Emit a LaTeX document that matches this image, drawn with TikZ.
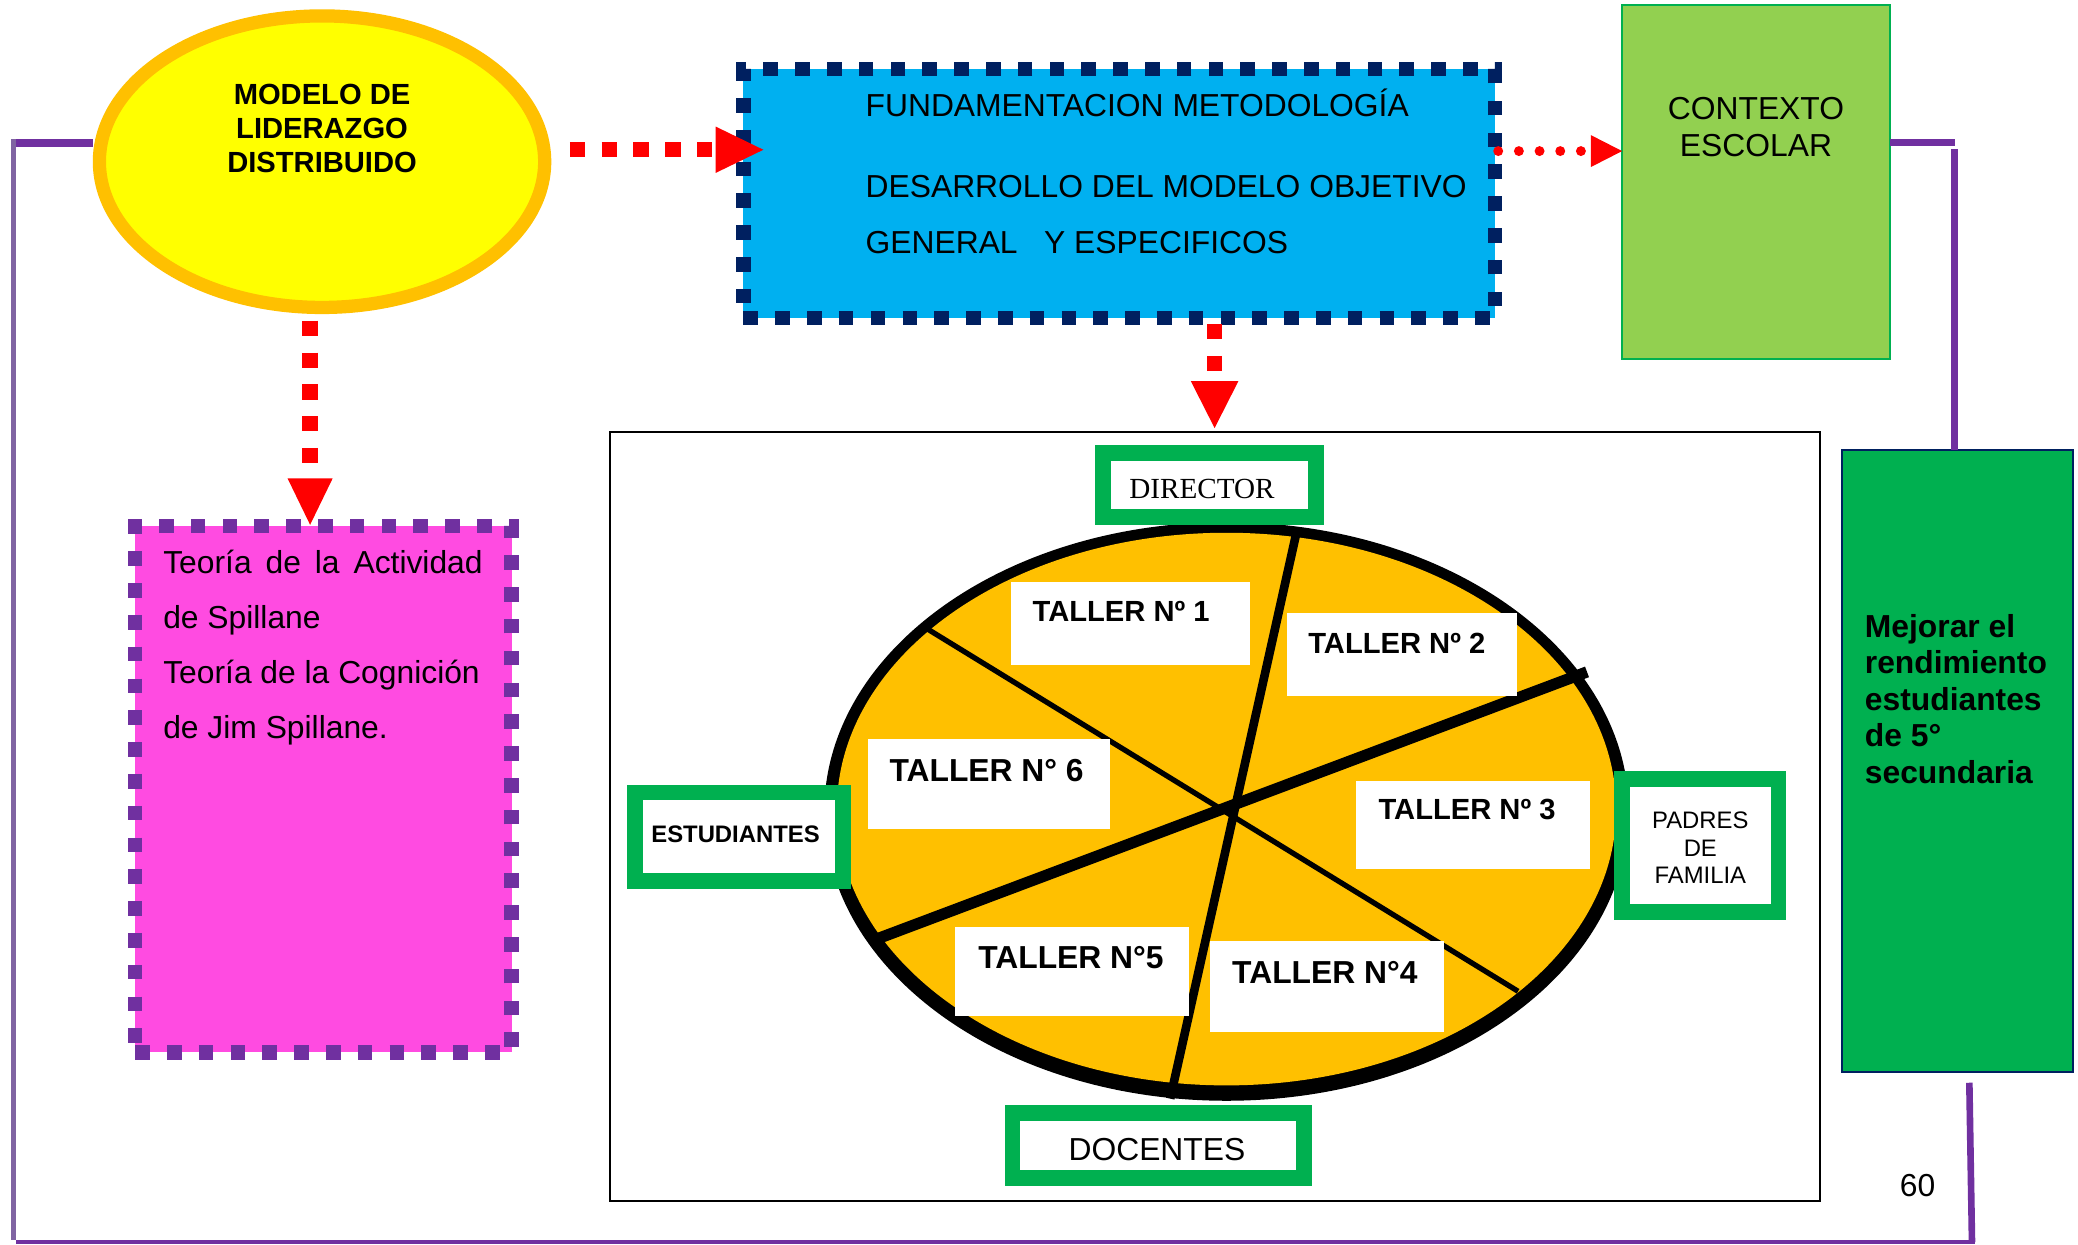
\documentclass[tikz,border=0pt]{standalone}
\usepackage{fontspec}
\setmainfont{Liberation Sans}
\newfontfamily\timesfont{Liberation Serif}
\usetikzlibrary{arrows.meta,shapes.geometric}
\definecolor{cyellow}{HTML}{FFFF00}
\definecolor{corange}{HTML}{FFC000}
\definecolor{cred}{HTML}{FF0000}
\definecolor{cblue}{HTML}{00B0F0}
\definecolor{cnavy}{HTML}{002060}
\definecolor{clgreen}{HTML}{92D050}
\definecolor{cgreen}{HTML}{00B050}
\definecolor{cmagenta}{HTML}{FF4BE1}
\definecolor{cpurple}{HTML}{7030A0}
\definecolor{clpurple}{HTML}{8064A2}
\newcommand\fsz[2]{\fontsize{#1}{#2}\selectfont}
\tikzset{
  tl/.style={inner sep=0pt, anchor=base west},
  tc/.style={inner sep=0pt, anchor=base},
  plainbox/.style={inner sep=0pt, outer sep=0pt},
  sqborder/.style={line width=11pt, dash pattern=on 11pt off 13pt},
  reddash/.style={draw=cred, line width=11.5pt, dash pattern=on 11.5pt off 12.5pt},
  reddot/.style={draw=cred, line width=7.5pt, dash pattern=on 0pt off 15.6pt, line cap=round},
  labelbox/.style={draw=cgreen, line width=12pt, fill=white, inner sep=0pt},
  tallerbox/.style={fill=white, inner sep=0pt},
  tallertxt/.style={tl, font=\bfseries\fsz{22}{26}},
  tallertxtb/.style={tl, font=\bfseries\fsz{24}{28}},
  conn/.style={draw=cpurple},
}
\begin{document}
\begin{tikzpicture}[x=1pt,y=-1pt]
\useasboundingbox[fill=white] (0,0) rectangle (1568,939);

% ---- purple connectors (behind) ----
\coordinate (pa) at (10,107.7);
\coordinate (pb) at (1475,107.7);
\coordinate (pc) at (10,936);
\coordinate (pd) at (1490,937.3);
\coordinate (pe) at (1486,817);
\coordinate (pf) at (1488,937.3);
\coordinate (ar) at (0,114);

% ---- main boxes ----
\node[ellipse, draw=corange, line width=10pt, fill=cyellow, minimum width=336pt, minimum height=220pt, inner sep=0pt] (modelo) at (243,122) {};
\node[plainbox, draw=cnavy, fill=cblue, sqborder, minimum width=567pt, minimum height=188pt] (fund) at (844.5,146) {};
\node[plainbox, draw=cgreen, line width=1.5pt, fill=clgreen, minimum width=202pt, minimum height=267pt] (contexto) at (1325,137.6) {};
\node[plainbox, draw=cpurple, fill=cmagenta, sqborder, minimum width=284pt, minimum height=397pt] (teoria) at (244,595.5) {};
\node[plainbox, draw=cnavy, line width=1.5pt, fill=cgreen, minimum width=174pt, minimum height=469.5pt] (mejorar) at (1477,574.2) {};
\node[plainbox, draw=black, line width=1.5pt, minimum width=913pt, minimum height=580pt] (marco) at (916.5,616) {};

\draw[conn, line width=6pt] (modelo.west |- pa) -- (pa);
\draw[draw=clpurple, line width=4pt] ([yshift=2.5pt]pa) -- (pc);
\draw[conn, line width=3pt] (12,937.3) -- (pd);
\draw[conn, line width=5pt] (pe) -- (pf);
\draw[conn, line width=5.5pt] (contexto.east |- pb) -- (pb);
\draw[conn, line width=5.5pt] ([yshift=-5pt]pb) -- (pb |- mejorar.north);

% ---- texts of main boxes ----
\node[tc, font=\bfseries\fsz{22}{26}] (m1) at (243,78.5) {MODELO DE};
\node[tc, font=\bfseries\fsz{22}{26}] (m2) at (243,104.5) {LIDERAZGO};
\node[tc, font=\bfseries\fsz{22}{26}] (m3) at (243,130) {DISTRIBUIDO};

\node[tl, font=\fsz{24}{28}] (f1) at (653,88) {FUNDAMENTACION METODOLOGÍA};
\node[tl, font=\fsz{24}{28}] (f2) at (653,149) {DESARROLLO DEL MODELO OBJETIVO};
\node[tl, font=\fsz{24}{28}] (f3) at (653,191) {GENERAL\hspace{20pt}Y ESPECIFICOS};

\node[tc, font=\fsz{24}{28}] (c1) at (1325,90.5) {CONTEXTO};
\node[tc, font=\fsz{24}{28}] (c2) at (1325,118) {ESCOLAR};

\node[tl, font=\fsz{24}{28}] (te1) at (123,433) {\makebox[241pt][s]{Teoría de la Actividad}};
\node[tl, font=\fsz{24}{28}] (te2) at (123,474.5) {de Spillane};
\node[tl, font=\fsz{24}{28}] (te3) at (123,516) {Teoría de la Cognición};
\node[tl, font=\fsz{24}{28}] (te4) at (123,557.5) {de Jim Spillane.};

\node[tl, font=\bfseries\fsz{24}{28}] (me1) at (1407,481) {Mejorar el};
\node[tl, font=\bfseries\fsz{24}{28}] (me2) at (1407,508.5) {rendimiento};
\node[tl, font=\bfseries\fsz{24}{28}] (me3) at (1407,536) {estudiantes};
\node[tl, font=\bfseries\fsz{24}{28}] (me4) at (1407,563.5) {de 5°};
\node[tl, font=\bfseries\fsz{24}{28}] (me5) at (1407,591) {secundaria};

\node[tc, font=\fsz{24}{28}] (pagenum) at (1447,902.5) {60};

% ---- red arrows ----
\draw[reddash, -{Triangle[length=36pt,width=35pt,line width=0pt]}] (430,113) -- (576,113);
\draw[reddot, -{Triangle[length=23.5pt,width=24pt,line width=0pt]}] (1130.5,114) -- (contexto.west |- ar);
\draw[reddash, -{Triangle[length=35pt,width=34pt,line width=0pt]}] (234,242) -- (234,396);
\draw[reddash, -{Triangle[length=35.5pt,width=36pt,line width=0pt]}] (916.5,244.5) -- (916.5,323);

% ---- pie ----
\fill[black] (925.5,612.3) ellipse [x radius=303.5pt, y radius=218.3pt];
\fill[corange] (925.5,610.5) ellipse [x radius=294pt, y radius=208.5pt];
\draw[line width=6.5pt] (978,403) -- (883,829);
\draw[line width=8.5pt] (1197.5,507) -- (663,708);
\draw[line width=4pt] (698,473.5) -- (1145.5,748);

% ---- talleres ----
\node[tallerbox, minimum width=180pt, minimum height=63pt] (b1) at (853,470.5) {};
\node[tallerbox, minimum width=174pt, minimum height=62.5pt] (b2) at (1058,493.75) {};
\node[tallerbox, minimum width=177pt, minimum height=67pt] (b3) at (1111.5,622.5) {};
\node[tallerbox, minimum width=182.5pt, minimum height=68pt] (b6) at (746.25,591.55) {};
\node[tallerbox, minimum width=176.4pt, minimum height=67pt] (b5) at (808.8,733.15) {};
\node[tallerbox, minimum width=176.6pt, minimum height=68.5pt] (b4) at (1001.3,744.25) {};
\node[tallertxt] (tt1) at (779,468.6) {TALLER Nº 1};
\node[tallertxt] (tt2) at (987,493) {TALLER Nº 2};
\node[tallertxt] (tt3) at (1040,618.4) {TALLER Nº 3};
\node[tallertxtb] (tt6) at (671,590) {TALLER N° 6};
\node[tallertxtb] (tt5) at (738,731) {TALLER N°5};
\node[tallertxtb] (tt4) at (929.6,742) {TALLER N°4};

% ---- actor boxes ----
\node[labelbox, minimum width=161pt, minimum height=48pt] (director) at (912.5,366) {};
\node[labelbox, minimum width=157pt, minimum height=67pt] (estud) at (557.5,631.5) {};
\node[labelbox, minimum width=118pt, minimum height=100pt] (padres) at (1283,638) {};
\node[labelbox, minimum width=220pt, minimum height=49pt] (docentes) at (874,864.5) {};
\node[tc, font=\timesfont\fsz{22}{26}] (dt) at (907,376) {DIRECTOR};
\node[tc, font=\bfseries\fsz{18}{21}] (et) at (555,636) {ESTUDIANTES};
\node[tc, font=\fsz{18}{21}] (pt1) at (1283,625) {PADRES};
\node[tc, font=\fsz{18}{21}] (pt2) at (1283,646.4) {DE};
\node[tc, font=\fsz{18}{21}] (pt3) at (1283,666.6) {FAMILIA};
\node[tc, font=\fsz{24}{28}] (doct) at (873,876) {DOCENTES};
\end{tikzpicture}
\end{document}
